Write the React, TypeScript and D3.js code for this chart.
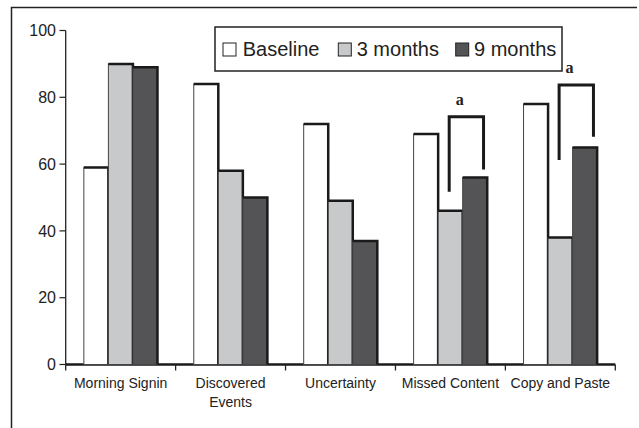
import React from "react";
import * as d3 from "d3";

const categories = ["Morning Signin", "Discovered Events", "Uncertainty", "Missed Content", "Copy and Paste"];
const categoryLines = [["Morning Signin"], ["Discovered", "Events"], ["Uncertainty"], ["Missed Content"], ["Copy and Paste"]];
const seriesNames = ["Baseline", "3 months", "9 months"];
const seriesColors = ["#ffffff", "#c8c9cb", "#545457"];
const baseline = [59, 84, 72, 69, 78];
const threeMonths = [90, 58, 49, 46, 38];
const nineMonths = [89, 50, 37, 56, 65];
const yTicks = [0, 20, 40, 60, 80, 100];

// significance brackets between 3 months and 9 months
const annCategories = ["Missed Content", "Copy and Paste"];
const annTop = [74.2, 83.7];
const annLeftEnd = [51.7, 61.2];
const annRightEnd = [58.4, 68.2];
const annLabel = ["a", "a"];

const W = 639;
const H = 428;

export default function App() {
  const values = [baseline, threeMonths, nineMonths];
  const x = d3.scaleBand<string>().domain(categories).range([65.7, 615.3]).paddingInner(0).paddingOuter(0);
  const xi = d3.scaleBand<string>().domain(seriesNames).range([0, x.bandwidth()]).paddingInner(0).paddingOuter(0.74);
  const y = d3.scaleLinear().domain([0, 100]).range([364.5, 30.5]);
  const bw = xi.bandwidth();
  const font = "'Liberation Sans', Arial, sans-serif";
  const boundaries = [...categories.map((c) => x(c)!), x(categories[categories.length - 1])! + x.bandwidth()];

  return (
    <div style={{ position: "absolute", left: 0, top: 0 }}>
      <svg width={W} height={H} style={{ display: "block", background: "#fff" }}>
        {/* frame */}
        <path d={`M11.5,${H} V7.5 H637`} fill="none" stroke="#222" strokeWidth={1.5} />

        {/* y axis */}
        <line x1={65.7} x2={65.7} y1={y(100)} y2={y(0)} stroke="#222" strokeWidth={1.3} />
        {yTicks.map((t) => (
          <g key={t}>
            <line x1={59.5} x2={65.7} y1={y(t)} y2={y(t)} stroke="#222" strokeWidth={1.2} />
            <text x={56} y={y(t)} dy="0.36em" textAnchor="end" fontFamily={font} fontSize={16} fill="#222">
              {t}
            </text>
          </g>
        ))}

        {/* x axis */}
        <line x1={65.7} x2={615.3} y1={y(0)} y2={y(0)} stroke="#1a1a1a" strokeWidth={2.5} />
        {boundaries.map((b, i) => (
          <line key={i} x1={b} x2={b} y1={y(0)} y2={y(0) + 6} stroke="#222" strokeWidth={1.3} />
        ))}

        {/* bars */}
        {categories.map((c, ci) => (
          <g key={c}>
            {seriesNames.map((s, si) => {
              const x0 = x(c)! + xi(s)!;
              const v = values[si][ci];
              const yt = y(v);
              const yb = y(0);
              return (
                <g key={s}>
                  <rect x={x0} y={yt} width={bw} height={yb - yt} fill={seriesColors[si]} stroke="#444" strokeWidth={1} />
                  <path d={`M${x0},${yt} H${x0 + bw} V${yb}`} fill="none" stroke="#1a1a1a" strokeWidth={2.5} />
                </g>
              );
            })}
          </g>
        ))}

        {/* x labels */}
        {categories.map((c, ci) => (
          <text key={c} textAnchor="middle" fontFamily={font} fontSize={14} fill="#222">
            {categoryLines[ci].map((ln, li) => (
              <tspan key={li} x={x(c)! + x.bandwidth() / 2} y={388 + li * 19}>
                {ln}
              </tspan>
            ))}
          </text>
        ))}

        {/* annotations */}
        {annCategories.map((c, i) => {
          const xl = x(c)! + xi("3 months")! + bw * 0.45;
          const xr = x(c)! + xi("9 months")! + bw * 0.85;
          return (
            <g key={c}>
              <path
                d={`M${xl},${y(annLeftEnd[i])} V${y(annTop[i])} H${xr} V${y(annRightEnd[i])}`}
                fill="none"
                stroke="#1a1a1a"
                strokeWidth={3}
              />
              <text
                x={xl + 10.5}
                y={y(annTop[i]) - 12}
                textAnchor="middle"
                fontFamily="'Liberation Serif', 'Times New Roman', serif"
                fontWeight="bold"
                fontSize={16}
                fill="#222"
              >
                {annLabel[i]}
              </text>
            </g>
          );
        })}

        {/* legend */}
        <rect x={215} y={27} width={347} height={44} fill="#fff" stroke="#222" strokeWidth={1.5} />
        {seriesNames.map((s, si) => {
          const sx = [223, 338.3, 455.7][si];
          const tx = [242.7, 356.7, 474][si];
          return (
            <g key={s}>
              <rect x={sx} y={43} width={13} height={13} fill={seriesColors[si]} stroke="#222" strokeWidth={1} />
              <text x={tx} y={56} fontFamily={font} fontSize={20} fill="#222">
                {s}
              </text>
            </g>
          );
        })}
      </svg>
    </div>
  );
}
